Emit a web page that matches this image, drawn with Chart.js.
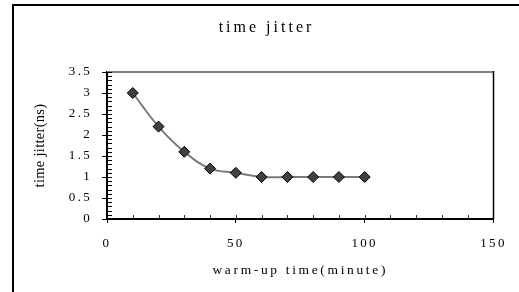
<!DOCTYPE html>
<html><head><meta charset="utf-8">
<script src="https://cdn.jsdelivr.net/npm/chart.js@4"></script>
<style>
html,body{margin:0;padding:0;background:#fff;}
#frame{position:absolute;left:12px;top:4px;width:507px;height:288px;border-left:2px solid #000;border-top:2px solid #000;}
canvas{display:block}
</style></head><body>
<div id="frame"><canvas id="c" width="505" height="286"></canvas></div>
<script>
const warmupMinutes = [10, 20, 30, 40, 50, 60, 70, 80, 90, 100];
const jitterNs = [3, 2.2, 1.6, 1.2, 1.1, 1, 1, 1, 1, 1];
const xTickValues = [0, 50, 100, 150];
const yTickStep = 0.5;
const titleText = 'time jitter';
const xTitleText = 'warm-up time(minute)';
const yTitleText = 'time jitter(ns)';

const FONT = '"Liberation Serif", "Times New Roman", serif';
// letter spacing keyed by font size (title, ticks, x title, y title)
const SPACING = {'16px': '3px', '13px': '2.3px', '13.5px': '2.65px', '14.5px': '0.3px'};

const canvas = document.getElementById('c');
const ctx = canvas.getContext('2d');
const fontDesc = Object.getOwnPropertyDescriptor(CanvasRenderingContext2D.prototype, 'font');
Object.defineProperty(ctx, 'font', {
  configurable: true,
  get() { return fontDesc.get.call(this); },
  set(v) {
    fontDesc.set.call(this, v);
    const m = /([\d.]+px)/.exec(v);
    this.letterSpacing = (m && SPACING[m[1]]) || '0px';
  }
});

const frameTicks = {
  id: 'frameTicks',
  beforeDatasetsDraw(chart) {
    const {ctx, chartArea: a, scales: {x, y}} = chart;
    ctx.save();
    ctx.strokeStyle = '#808080';
    ctx.lineWidth = 2;
    ctx.beginPath();
    ctx.moveTo(a.left, a.top);
    ctx.lineTo(a.right, a.top);
    ctx.stroke();
    ctx.strokeStyle = '#000';
    ctx.lineWidth = 1.5;
    ctx.beginPath();
    ctx.moveTo(a.right, a.top - 1);
    ctx.lineTo(a.right, a.bottom);
    ctx.stroke();
    ctx.lineWidth = 1;
    ctx.beginPath();
    for (let i = 0; i <= 35; i++) {
      const py = Math.round(y.getPixelForValue(i / 10)) + 0.5;
      ctx.moveTo(a.left, py);
      ctx.lineTo(a.left + 5, py);
    }
    ctx.stroke();
    ctx.strokeStyle = '#333';
    ctx.beginPath();
    for (let v = 10; v < 150; v += 10) {
      const px = Math.round(x.getPixelForValue(v)) + 0.5;
      ctx.moveTo(px, a.bottom);
      ctx.lineTo(px, a.bottom - 4);
    }
    ctx.stroke();
    ctx.restore();
  }
};

new Chart(ctx, {
  type: 'line',
  data: {
    datasets: [{
      data: warmupMinutes.map((m, i) => ({x: m, y: jitterNs[i]})),
      borderColor: '#7a7a7a',
      borderWidth: 2,
      tension: 0.4,
      pointStyle: 'rectRot',
      pointRadius: 5.5,
      pointHoverRadius: 5.5,
      pointBackgroundColor: '#404040',
      pointBorderColor: '#000',
      pointBorderWidth: 1,
      fill: false
    }]
  },
  plugins: [frameTicks],
  options: {
    responsive: false,
    animation: false,
    events: [],
    layout: {padding: 0},
    plugins: {
      legend: {display: false},
      tooltip: {enabled: false},
      title: {
        display: true,
        text: titleText,
        color: '#000',
        font: {family: FONT, size: 16, weight: 'normal', lineHeight: 1.2},
        padding: {top: 12.4, bottom: 34.4}
      }
    },
    scales: {
      x: {
        type: 'linear',
        min: 0, max: 150,
        afterBuildTicks(s) { s.ticks = xTickValues.map(v => ({value: v})); },
        afterFit(s) { s.height = 73; s.paddingRight = 25.5; },
        grid: {drawOnChartArea: false, tickLength: 4, color: '#000', tickWidth: 1},
        border: {color: '#000', width: 2},
        ticks: {color: '#000', padding: 12.5, maxRotation: 0, font: {family: FONT, size: 13}},
        title: {display: true, text: xTitleText, color: '#000', padding: {top: 0, bottom: 13},
                font: {family: FONT, size: 13.5, lineHeight: 1.2}}
      },
      y: {
        type: 'linear',
        min: 0, max: 3.5,
        ticks: {stepSize: yTickStep, color: '#000', padding: 10, font: {family: FONT, size: 13},
                callback: v => String(+v.toFixed(1))},
        afterFit(s) { s.width = 93; },
        grid: {drawOnChartArea: false, tickLength: 5, color: '#000', tickWidth: 1},
        border: {color: '#000', width: 2},
        title: {display: true, text: yTitleText, color: '#000', padding: {top: 17.8, bottom: 0},
                font: {family: FONT, size: 14.5, lineHeight: 1.2}}
      }
    }
  }
});
</script>
</body></html>
